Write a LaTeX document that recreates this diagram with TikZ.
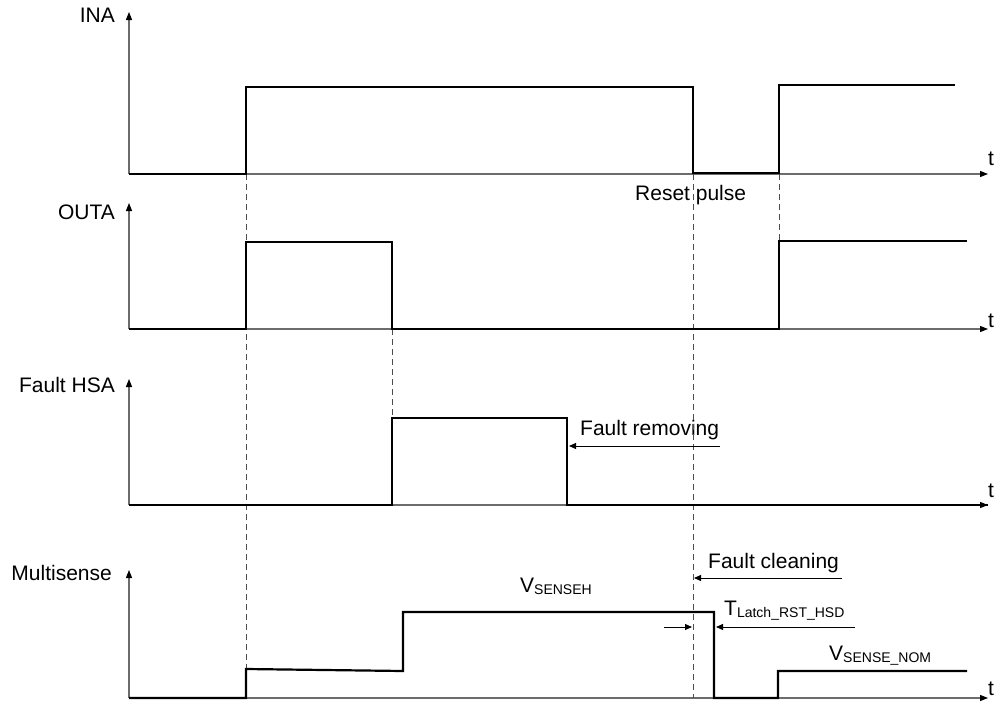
\documentclass[tikz,border=0pt]{standalone}
\usepackage{fontspec}
\setmainfont{Liberation Sans}
\usetikzlibrary{arrows.meta}
\newcommand\sub[1]{\raisebox{-2pt}{\fontsize{14}{16}\selectfont #1}}

\begin{document}
\begin{tikzpicture}[x=1pt,y=-1pt]
    \tikzset{axis/.style=  {draw=gray!85!black,
                            line width=1.2pt,
                            -{Triangle[length=8pt,width=6pt,color=black]}},
             sig/.style=   {draw=black,
                            line width=2.2pt,
                            line join=miter},
             guide/.style= {draw=gray!60!black,
                            line width=0.9pt,
                            dash pattern=on 6pt off 4pt},
             note/.style=  {draw=black,
                            line width=1pt,
                            -{Triangle[length=7pt,width=6pt]}},
             lbl/.style=   {inner sep=0pt,
                            anchor=base west,
                            font=\fontsize{21}{25}\selectfont},
            }
    \useasboundingbox (0,0) rectangle (1001,704);
    \path
    (115,23)  node[lbl,anchor=base east](ina) {INA}
    (115,219) node[lbl,anchor=base east](outa) {OUTA}
    (115,392) node[lbl,anchor=base east](hsa) {Fault HSA}
    (112,580) node[lbl,anchor=base east](ms) {Multisense}
    (988,165) node[lbl](t1) {t}
    (988,327) node[lbl](t2) {t}
    (988,497) node[lbl](t3) {t}
    (988,695) node[lbl](t4) {t}
    (635,200) node[lbl](rst) {Reset pulse}
    (580,435) node[lbl](frm) {Fault removing}
    (708,568) node[lbl](fcl) {Fault cleaning}
    (520,592) node[lbl](vh) {V\sub{SENSEH}}
    (724,615) node[lbl](tl) {T\sub{Latch\_RST\_HSD}}
    (829,660) node[lbl](vn) {V\sub{SENSE\_NOM}}
    ;
    \coordinate (o1) at (129,174);
    \coordinate (o2) at (129,329);
    \coordinate (o3) at (129,505);
    \coordinate (o4) at (129,698);
    \draw[axis] (o1) -- (129,12);
    \draw[axis] (o1) -- (988,174);
    \draw[axis] (o2) -- (129,203);
    \draw[axis] (o2) -- (988,329);
    \draw[axis] (o3) -- (129,379);
    \draw[axis] (o3) -- (988,505);
    \draw[axis] (o4) -- (129,570);
    \draw[axis] (o4) -- (988,698);
    \draw[guide] (246,174) -- (246,670);
    \draw[guide] (392,329) -- (392,418);
    \draw[guide] (693,174) -- (693,698);
    \draw[guide] (779,174) -- (779,241);
    \draw[sig] (o1) -- (246,174) -- (246,87) -- (693,87) -- (693,173)
               -- (779,173) -- (779,85) -- (955,85);
    \draw[sig] (o2) -- (246,329) -- (246,242) -- (392,242) -- (392,329)
               -- (779,329) -- (779,241) -- (967,241);
    \draw[sig] (o3) -- (392,505) -- (392,418) -- (567,418) -- (567,505)
               -- (988,505);
    \draw[sig] (o4) -- (246,698) -- (246,669) -- (403,671) -- (403,612)
               -- (714,612) -- (714,698) -- (778,698) -- (778,671) -- (967,671);
    \coordinate (frA) at (720,446);
    \coordinate (frB) at (569,446);
    \coordinate (fcA) at (842,578);
    \coordinate (fcB) at (694,578);
    \coordinate (tlA) at (855,627);
    \coordinate (tlB) at (716,627);
    \coordinate (tlC) at (664,627);
    \coordinate (tlD) at (692,627);
    \draw[note] (frA) -- (frB);
    \draw[note] (fcA) -- (fcB);
    \draw[note] (tlA) -- (tlB);
    \draw[note] (tlC) -- (tlD);
\end{tikzpicture}
\end{document}
